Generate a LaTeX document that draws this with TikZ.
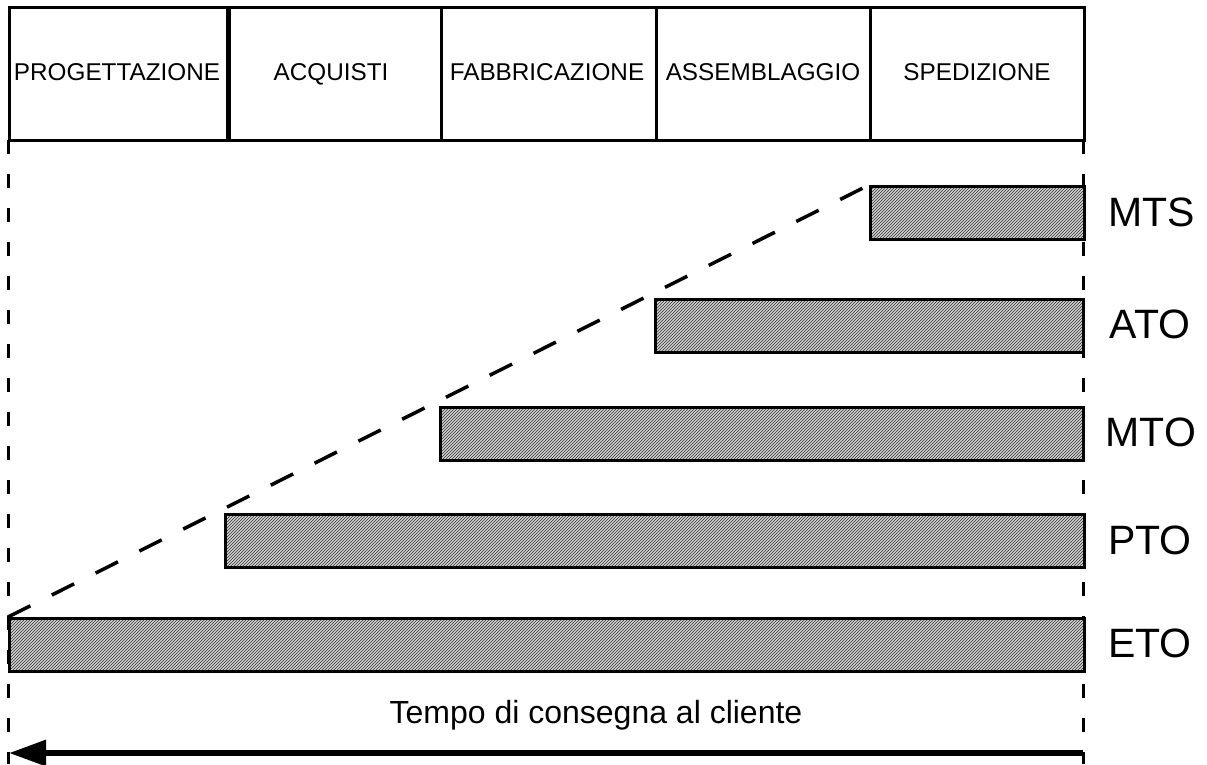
\documentclass[tikz,border=0pt]{standalone}
\usepackage{fontspec}
\setmainfont{Liberation Sans}
\usetikzlibrary{patterns,arrows.meta}
\tikzset{
  cell/.style={draw, line width=2.5pt, anchor=north west, inner sep=0pt, minimum height=133pt},
  htext/.style={anchor=base, inner sep=0pt, font=\fontsize{24.3}{27}\selectfont},
  bar/.style={draw, line width=3pt, anchor=north west, inner sep=0pt, minimum height=53pt,
    preaction={fill=gray!35}, pattern=north east lines, pattern color=black!80},
  lab/.style={font=\fontsize{41}{46}\selectfont},
  vdash/.style={line width=3pt, dash pattern=on 14pt off 20pt},
  sdash/.style={line width=3.5pt, dash pattern=on 25pt off 24pt},
}
\begin{document}
\begin{tikzpicture}[x=1pt,y=-1pt]
\useasboundingbox (0,0) rectangle (1207,764);
% header
\node[cell, minimum width=218pt] (h1) at (8,6) {};
\node[cell, minimum width=214pt] (h2) at (226,6) {};
\node[cell, minimum width=215pt] (h3) at (440,6) {};
\node[cell, minimum width=214pt] (h4) at (655,6) {};
\node[cell, minimum width=214pt] (h5) at (869,6) {};
\draw[line width=4pt] (h1.north east) -- (h1.south east);
\node[htext] (t1) at (117,80) {PROGETTAZIONE};
\node[htext] (t2) at (331,80) {ACQUISTI};
\node[htext] (t3) at (547,80) {FABBRICAZIONE};
\node[htext] (t4) at (763,80) {ASSEMBLAGGIO};
\node[htext] (t5) at (977,80) {SPEDIZIONE};
% dashed verticals
\coordinate (lt) at (8,140);
\coordinate (lb) at (8,764);
\coordinate (rt) at (1083,140);
\coordinate (rb) at (1083,764);
\draw[vdash] (lt) -- (lb);
\draw[vdash] (rt) -- (rb);
% bars
\node[bar, minimum width=214pt] (mts) at (869,185) {};
\node[bar, minimum width=428pt] (ato) at (654,298) {};
\node[bar, minimum width=643pt] (mto) at (439,406) {};
\node[bar, minimum width=859pt] (pto) at (224,513) {};
\node[bar, minimum width=1075pt] (eto) at (8,617) {};
% slope line
\draw[sdash] (eto.north west) -- (mts.north west);
% labels
\node[lab] (lmts) at (1152,212) {MTS};
\node[lab] (lato) at (1150,324) {ATO};
\node[lab] (lmto) at (1151,432) {MTO};
\node[lab] (lpto) at (1150,540) {PTO};
\node[lab] (leto) at (1150,643) {ETO};
% bottom text and arrow
\node[anchor=base, inner sep=0pt, font=\fontsize{32}{36}\selectfont] (tc) at (596,723) {Tempo di consegna al cliente};
\coordinate (as) at (1083,753);
\coordinate (ae) at (9,753);
\draw[line width=6pt, -{Triangle[length=37pt,width=25pt]}] (as) -- (ae);
\end{tikzpicture}
\end{document}
